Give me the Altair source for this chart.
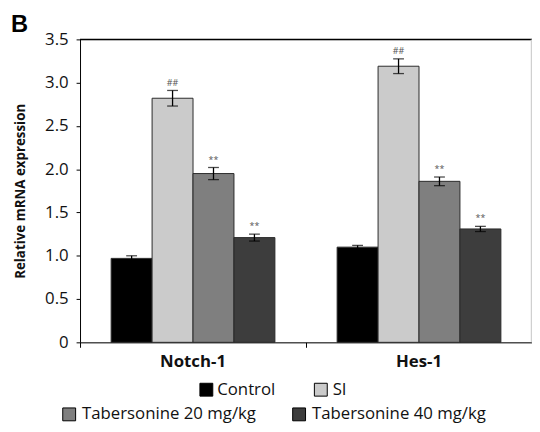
import altair as alt
import pandas as pd

genes = ["Notch-1", "Hes-1"]
groups = ["Control", "SI", "Tabersonine 20 mg/kg", "Tabersonine 40 mg/kg"]
colors = ["#000000", "#cbcbcb", "#7f7f7f", "#3d3d3d"]
notch_vals = [0.97, 2.82, 1.95, 1.21]
notch_err = [0.03, 0.09, 0.07, 0.04]
hes_vals = [1.10, 3.19, 1.86, 1.31]
hes_err = [0.02, 0.085, 0.05, 0.03]
sig = ["", "##", "**", "**"]
y_ticks = [0, 0.5, 1.0, 1.5, 2.0, 2.5, 3.0, 3.5]

rows = []
for gene, vals, errs in [(genes[0], notch_vals, notch_err), (genes[1], hes_vals, hes_err)]:
    for g, v, e, s in zip(groups, vals, errs, sig):
        rows.append({"gene": gene, "group": g, "value": v, "lo": v - e, "hi": v + e, "sig": s})
df = pd.DataFrame(rows)

FONT = "Open Sans"
W, H = 458, 307

x = alt.X("gene:N", sort=genes, title=None,
          scale=alt.Scale(paddingInner=0, paddingOuter=0),
          axis=alt.Axis(labelFont=FONT, labelFontSize=17, labelFontWeight="bold",
                        labelColor="#111", labelAngle=0, labelPadding=6,
                        domainColor="#000", domainWidth=1, tickColor="#000",
                        tickSize=5, bandPosition=0))
xoff = alt.XOffset("group:N", sort=groups,
                   scale=alt.Scale(domain=groups, paddingOuter=0.76, paddingInner=0))
yscale = alt.Scale(domain=[0, 3.5], nice=False)

base = alt.Chart(df)

bars = base.mark_bar(stroke="#2a2a2a", strokeWidth=1).encode(
    x=x, xOffset=xoff,
    y=alt.Y("value:Q", scale=yscale, title="Relative mRNA expression",
            axis=alt.Axis(values=y_ticks, grid=False,
                          labelExpr="datum.value == 0 ? '0' : format(datum.value, '.1f')",
                          labelFont=FONT, labelFontSize=17, labelColor="#111",
                          labelPadding=8, tickSize=4, tickColor="#000",
                          domainColor="#000", domainWidth=1,
                          titleFont=FONT, titleFontSize=13.5, titleFontWeight="bold",
                          titleColor="#111", titlePadding=17)),
    color=alt.Color("group:N", sort=groups,
                    scale=alt.Scale(domain=groups, range=colors), legend=None),
)

err = base.mark_rule(color="#000", strokeWidth=1.3).encode(
    x=x, xOffset=xoff, y=alt.Y("lo:Q", scale=yscale), y2="hi:Q")
cap_hi = base.mark_tick(color="#000", size=11, thickness=1.3, orient="horizontal").encode(
    x=x, xOffset=xoff, y=alt.Y("hi:Q", scale=yscale))
cap_lo = base.mark_tick(color="#000", size=11, thickness=1.3, orient="horizontal").encode(
    x=x, xOffset=xoff, y=alt.Y("lo:Q", scale=yscale))
ann = base.mark_text(font=FONT, fontSize=9, color="#555", dy=-3, baseline="bottom").encode(
    x=x, xOffset=xoff, y=alt.Y("hi:Q", scale=yscale), text="sig:N")

frame_top = alt.Chart(pd.DataFrame({"k": [0]})).mark_rule(color="#000", strokeWidth=1.5).encode(
    x=alt.value(0), x2=alt.value(W), y=alt.value(0))
frame_right = alt.Chart(pd.DataFrame({"k": [0]})).mark_rule(color="#d0d0d0", strokeWidth=1.5).encode(
    x=alt.value(W - 0.5), y=alt.value(0), y2=alt.value(H))

panel = alt.Chart(pd.DataFrame({"t": ["B"]})).mark_text(
    font="Liberation Sans", fontSize=24, fontWeight="bold", color="#000",
    align="left", baseline="alphabetic"
).encode(x=alt.value(-70), y=alt.value(-7), text="t:N")

# manual legend (two centred rows)
leg_pos = [(128, 355, 11), (244, 355, 12), (-11, 380, 13), (222, 380, 13)]
legend_layers = []
for g, c, (lx, ly, off) in zip(groups, colors, leg_pos):
    d = pd.DataFrame({"label": [g]})
    legend_layers.append(alt.Chart(d).mark_square(size=170, color=c, stroke="#000",
                                                  strokeWidth=1, opacity=1).encode(
        x=alt.value(lx), y=alt.value(ly)))
    legend_layers.append(alt.Chart(d).mark_text(font=FONT, fontSize=17, color="#111",
                                                align="left", baseline="middle").encode(
        x=alt.value(lx + off), y=alt.value(ly), text="label:N"))

chart = alt.layer(bars, err, cap_hi, cap_lo, ann, frame_top, frame_right, panel,
                  *legend_layers).properties(
    width=W, height=H,
    autosize=alt.AutoSizeParams(type="none"),
    padding={"left": 73, "top": 29, "right": 0, "bottom": 84},
).configure_view(stroke=None).configure(background="white")

chart.save("out.html", embed_options={"renderer": "svg", "actions": False})
